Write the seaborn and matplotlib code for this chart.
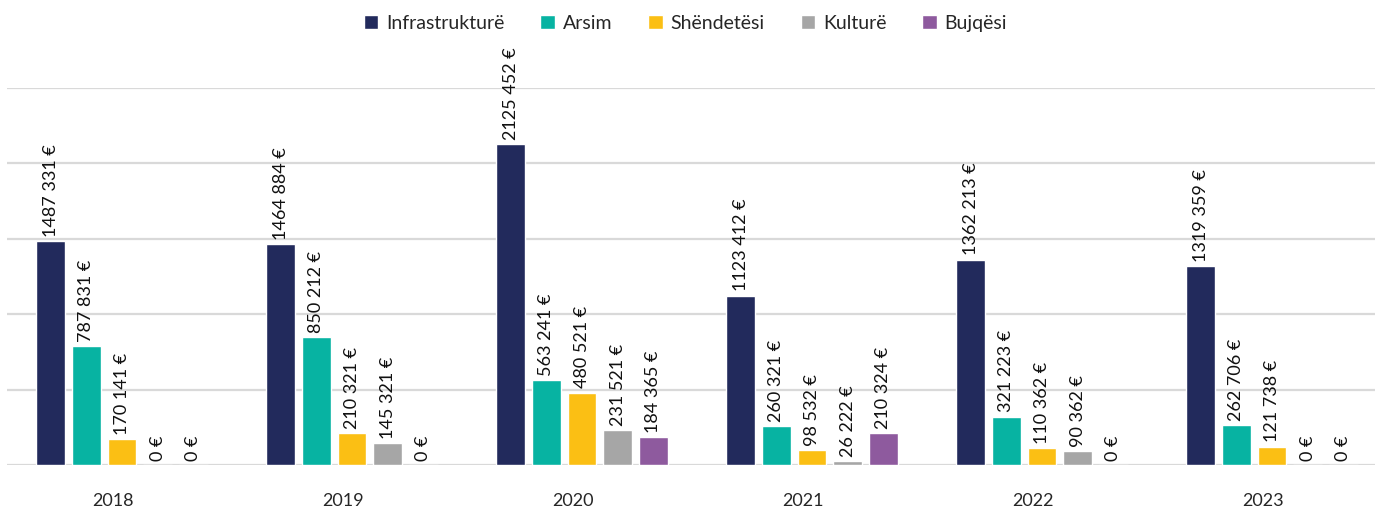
import matplotlib
matplotlib.use("Agg")
import matplotlib.pyplot as plt
import matplotlib.transforms as mtransforms
import seaborn as sns
import pandas as pd

years = ["2018", "2019", "2020", "2021", "2022", "2023"]
categories = ["Infrastrukturë", "Arsim", "Shëndetësi", "Kulturë", "Bujqësi"]
infrastrukture = [1487331, 1464884, 2125452, 1123412, 1362213, 1319359]
arsim = [787831, 850212, 563241, 260321, 321223, 262706]
shendetesi = [170141, 210321, 480521, 98532, 110362, 121738]
kulture = [0, 145321, 231521, 26222, 90362, 0]
bujqesi = [0, 0, 184365, 210324, 0, 0]
colors = ["#222A5C", "#07B3A2", "#FBBF14", "#A6A6A6", "#8E5A9E"]

series = [infrastrukture, arsim, shendetesi, kulture, bujqesi]
rows = []
for cat, vals in zip(categories, series):
    for y, v in zip(years, vals):
        rows.append({"year": y, "cat": cat, "value": v})
df = pd.DataFrame(rows)

sns.set_theme(style="white")
plt.rcParams["font.family"] = ["Lato", "DejaVu Sans"]

fig = plt.figure(figsize=(13.79, 5.08), dpi=100)
ax = fig.add_axes([7 / 1379, 43 / 508, 1368 / 1379, 377 / 508])

sns.barplot(data=df, x="year", y="value", hue="cat", order=years,
            hue_order=categories, palette=colors, width=0.775, gap=0.2,
            saturation=1, ax=ax, legend=True)

ax.set_ylim(0, 2500000)
ax.set_xlim(-0.5, 5.448)
ax.set_yticks([0, 500000, 1000000, 1500000, 2000000, 2500000])
ax.yaxis.grid(True, color="#D9D9D9", linewidth=1.6)
ax.set_axisbelow(True)
ax.set_yticklabels([])
ax.tick_params(axis="y", length=0)
ax.tick_params(axis="x", length=0, labelsize=13, pad=20)
offset = mtransforms.ScaledTranslation(-9 / 100, 0, fig.dpi_scale_trans)
for lbl in ax.get_xticklabels():
    lbl.set_transform(lbl.get_transform() + offset)
for s in ax.spines.values():
    s.set_visible(False)
ax.set_xlabel("")
ax.set_ylabel("")


def fmt(v):
    if v >= 1000:
        return f"{v // 1000} {v % 1000:03d} €"
    return f"{v} €"


for cont, vals in zip(ax.containers, series):
    ax.bar_label(cont, labels=[fmt(v) for v in vals], rotation=90,
                 padding=3, fontsize=13, color="#111111", clip_on=False)

handles, labels = ax.get_legend_handles_labels()
ax.get_legend().remove()
fig.legend(handles, labels, loc="upper center", bbox_to_anchor=(0.497, 1.005),
           ncol=5, frameon=False, fontsize=14, handlelength=0.75,
           handleheight=0.75, handletextpad=0.4, columnspacing=1.85)

fig.savefig("out.png", dpi=100)
